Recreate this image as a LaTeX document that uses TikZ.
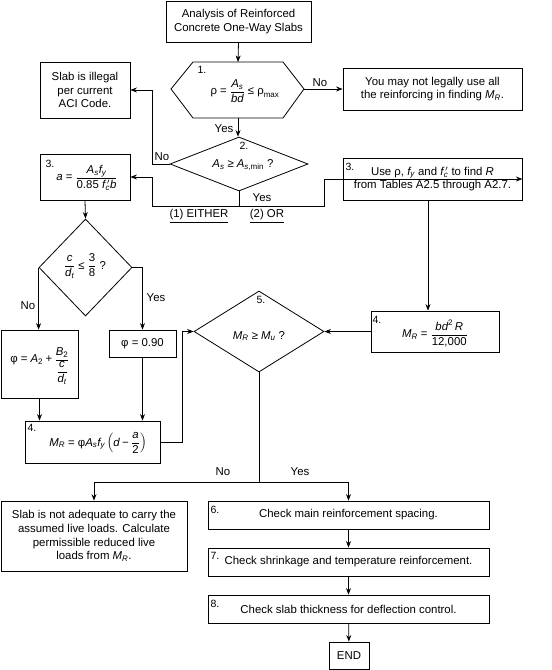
\documentclass[tikz,border=0pt]{standalone}
\usepackage{amsmath}
\usepackage{fontspec}
\setmainfont{Liberation Sans}
\usetikzlibrary{arrows.meta,shapes.geometric}
\newcommand{\vv}[1]{\text{\itshape #1}}
\newcommand{\tx}[1]{\text{#1}}
\newcommand{\myeq}{\mathrel{\text{=}}}
\newcommand{\myle}{\mathrel{\text{≤}}}
\newcommand{\myge}{\mathrel{\text{≥}}}
\newcommand{\myplus}{\mathbin{\text{+}}}
\newcommand{\myminus}{\mathbin{\text{−}}}
\begin{document}
\begin{tikzpicture}[x=1pt,y=-1pt,
  every node/.style={font=\fontsize{11.4}{13.8}\selectfont, inner sep=0pt},
  box/.style={draw, line width=0.8pt, align=center},
  arr/.style={line width=0.8pt, -{Stealth[length=6.5pt,width=5pt]}},
  ln/.style={line width=0.8pt},
  dia/.style={draw, diamond, aspect=1, line width=0.8pt},
  num/.style={font=\fontsize{10.5}{12}\selectfont},
  lbl/.style={font=\fontsize{11.4}{13}\selectfont}]
\useasboundingbox (0,0) rectangle (552,670);

% top
\node[box, minimum width=145, minimum height=41] (start) at (238.5,21.5) {Analysis of Reinforced\\Concrete One-Way Slabs};

% hexagon 1
\coordinate (hL) at (171,89);
\coordinate (hTL) at (193,62);
\coordinate (hTR) at (283,62);
\coordinate (hR) at (304,89);
\coordinate (hBR) at (283,118);
\coordinate (hBL) at (193,118);
\coordinate (hT) at (238,62);
\coordinate (hB) at (238,118);
\draw[ln] (hL) -- (hTL) -- (hTR) -- (hR) -- (hBR) -- (hBL) -- cycle;
\node (f1) at (245,91) {$\tx{ρ} \myeq \dfrac{\vv{A}_{\vv{s}}}{\vv{bd}} \myle \tx{ρ}_{\tx{max}}$};
\node[num] (n1) at (202,70) {1.};

\node[box, minimum width=179, minimum height=42] (r1) at (432.5,89) {You may not legally use all\\the reinforcing in finding \vv{M}$_{\vv{R}}$.};
\node[box, minimum width=90, minimum height=56] (ill) at (85,90) {Slab is illegal\\per current\\ACI Code.};

% diamond 2
\node[dia, minimum width=138, minimum height=54] (d2) at (239,164) {};
\node (f2) at (243,165) {$\vv{A}_{\vv{s}} \myge \vv{A}_{\vv{s}\tx{,min}}$ ?};
\node[num] (n2) at (244,146) {2.};

% boxes 3
\node[box, minimum width=90, minimum height=46] (b3a) at (85,177) {};
\node (f3a) at (87,178) {$\vv{a} \myeq \dfrac{\vv{A}_{\vv{s}}\vv{f}_{\vv{y}}}{\tx{0.85 }\vv{f}\,'_{\!\vv{c}}\vv{b}}$};
\node[num] (n3a) at (50,164) {3.};
\node[box, minimum width=179, minimum height=42] (b3b) at (432.5,179) {Use ρ, \vv{f}$_{\vv{y}}$ and \vv{f}$\,'_{\!\vv{c}}$ to find \vv{R}\\from Tables A2.5 through A2.7.};
\node[num] (n3b) at (350,167) {3.};

% diamond c/dt
\node[dia, minimum width=93, minimum height=97] (dcd) at (85.5,267.5) {};
\node (fcd) at (85,266) {$\dfrac{\vv{c}}{\vv{d}_{\vv{t}}} \myle \dfrac{\tx{3}}{\tx{8}}$ ?};

\node[box, minimum width=77, minimum height=68] (phA) at (39.5,364) {};
\node (fphA) at (40,366) {$\tx{φ} \myeq \vv{A}_{\tx{2}} \myplus \dfrac{\vv{B}_{\tx{2}}}{\dfrac{\vv{c}}{\vv{d}_{\vv{t}}}}$};
\node[box, minimum width=67, minimum height=27] (ph9) at (142.5,343.5) {φ = 0.90};

\node[box, minimum width=135, minimum height=42] (m4a) at (92.5,442) {};
\node (fm4a) at (98,443) {$\vv{M}_{\vv{R}} \myeq \tx{φ}\vv{A}_{\vv{s}}\vv{f}_{\vv{y}}\left(\vv{d} \myminus \dfrac{\vv{a}}{\tx{2}}\right)$};
\node[num] (n4a) at (32,428) {4.};

% diamond 5
\node[dia, minimum width=130, minimum height=81] (d5) at (259,331.5) {};
\node (f5) at (259,336) {$\vv{M}_{\vv{R}} \myge \vv{M}_{\vv{u}}$ ?};
\node[num] (n5) at (261,300) {5.};

\node[box, minimum width=128, minimum height=41] (b4r) at (435,331.5) {};
\node (f4r) at (435,333) {$\vv{M}_{\vv{R}} \myeq \dfrac{\vv{bd}^{\tx{2}}\,\vv{R}}{\tx{12,000}}$};
\node[num] (n4r) at (377,320) {4.};

% bottom
\node[box, minimum width=186, minimum height=70] (na) at (94,536) {Slab is not adequate to carry the\\assumed live loads. Calculate\\permissible reduced live\\loads from \vv{M}$_{\vv{R}}$.};
\node[box, minimum width=281, minimum height=28] (b6) at (348.5,515) {Check main reinforcement spacing.};
\node[num] (n6) at (215,510) {6.};
\node[box, minimum width=281, minimum height=28] (b7) at (348.5,562) {Check shrinkage and temperature reinforcement.};
\node[num] (n7) at (215,556) {7.};
\node[box, minimum width=281, minimum height=28] (b8) at (348.5,609) {Check slab thickness for deflection control.};
\node[num] (n8) at (215,604) {8.};
\node[box, minimum width=40, minimum height=27] (end) at (349,655.5) {END};

% connectors
\draw[arr] (start.south) -- (hT);
\draw[arr] (hR) -- (r1.west |- hR);
\draw[arr] (hB) -- (hB |- d2.north);
\draw[arr] (d2.west) -- (152,164) |- (ill.east);
\coordinate (sp1) at (239,206);
\draw[ln] (d2.south) -- (sp1);
\draw[arr] (sp1) -- (152,206) |- (b3a.east);
\draw[arr] (sp1) -- (324,206) |- (b3b.east);
\draw[arr] (b3a.south) -- (dcd.north);
\draw[arr] (dcd.west) -- (dcd.west |- phA.north);
\draw[arr] (dcd.east) -| (ph9.north);
\draw[arr] (phA.south) -- (phA.south |- m4a.north);
\draw[arr] (ph9.south) -- (ph9.south |- m4a.north);
\draw[arr] (m4a.east) -- (182,442) |- (d5.west);
\draw[arr] ([xshift=-4.5pt]b3b.south) -- ([xshift=-4.5pt]b3b.south |- b4r.north);
\draw[arr] (b4r.west) -- (d5.east);
\coordinate (sp2) at (259,482);
\draw[ln] (d5.south) -- (sp2);
\draw[arr] (sp2) -| (na.north);
\draw[arr] (sp2) -| (b6.north);
\draw[arr] (b6) -- (b7);
\draw[arr] (b7) -- (b8);
\draw[arr] (b8) -- (end);

% labels
\node[lbl] (l1) at (320,83) {No};
\node[lbl] (l2) at (224,129) {Yes};
\node[lbl] (l3) at (162,157) {No};
\node[lbl] (l4) at (262,198) {Yes};
\node[lbl] (l5) at (199,216) {\underline{(1) EITHER}};
\node[lbl] (l6) at (267,216) {\underline{(2) OR}};
\node[lbl] (l7) at (28,306) {No};
\node[lbl] (l8) at (156,298) {Yes};
\node[lbl] (l9) at (223,472) {No};
\node[lbl] (l10) at (300,472) {Yes};
\end{tikzpicture}
\end{document}
